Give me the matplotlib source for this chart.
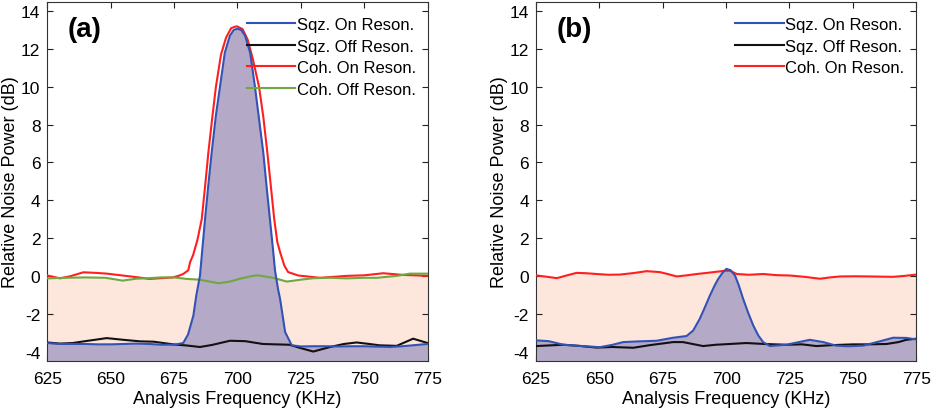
import matplotlib
matplotlib.use("Agg")
import matplotlib.pyplot as plt

plt.rcParams['font.family'] = ['Liberation Sans', 'DejaVu Sans']
plt.rcParams['axes.unicode_minus'] = False

# ---- panel (a) ----
a_sqz_on_f = [625, 630, 635, 640, 645, 650, 655, 660, 665, 670, 675, 678.6, 680.5, 682.6,
              683.8, 685.2, 686.2, 687.2, 688.5, 689.8, 691.5, 693.1, 695, 697, 698.5, 700,
              701.5, 703, 705, 706.9, 708.5, 710.2, 711.5, 712.8, 714, 714.8, 716, 716.8,
              718.8, 721.4, 725, 730, 735, 740, 745, 750, 755, 760, 765, 770, 775]
a_sqz_on = [-3.55, -3.6, -3.6, -3.6, -3.62, -3.62, -3.6, -3.58, -3.6, -3.64, -3.64, -3.55, -3.1, -2.1,
            -1.0, 0.0, 1.5, 3.0, 4.8, 6.5, 8.5, 10.0, 11.8, 12.7, 13.0, 13.07,
            13.0, 12.7, 11.8, 10.0, 8.3, 6.5, 4.7, 3.0, 1.42, 0.3, -0.7, -1.21,
            -2.97, -3.67, -3.73, -3.72, -3.72, -3.73, -3.72, -3.72, -3.74, -3.76, -3.72, -3.66, -3.6]

a_sqz_off_f = [625, 630, 635, 640, 648.4, 655, 661.5, 667, 674.6, 680, 685.2, 690, 697, 703,
               710, 715, 720.5, 725, 729.9, 736.5, 742, 747, 752, 756, 762.8, 769.3, 775]
a_sqz_off = [-3.52, -3.58, -3.55, -3.45, -3.29, -3.38, -3.46, -3.48, -3.62, -3.68, -3.76, -3.65, -3.43, -3.45,
             -3.6, -3.62, -3.64, -3.82, -4.0, -3.76, -3.6, -3.52, -3.6, -3.67, -3.7, -3.32, -3.55]

a_coh_on_f = [625, 630, 634, 639.2, 644, 648.4, 656, 661, 665.2, 670, 674.6, 677.1, 678.6, 680.6,
              681.3, 682.5, 684.2, 685.9, 687.2, 688.5, 690, 691.5, 693.5, 695.5, 697.5, 699.7,
              702, 704, 706, 708.5, 710.2, 711.8, 713.2, 714.5, 715.7, 716.8, 718.5, 720, 724,
              732.5, 738, 743, 750, 757.5, 765.4, 770, 775]
a_coh_on = [0.02, -0.13, -0.02, 0.19, 0.16, 0.12, 0.0, -0.08, -0.16, -0.12, -0.08, 0.02, 0.1, 0.3,
            0.72, 1.1, 1.9, 3.0, 4.7, 6.5, 8.3, 10.0, 11.7, 12.6, 13.1, 13.2,
            13.05, 12.5, 11.5, 10.0, 8.4, 6.5, 4.7, 3.0, 1.8, 1.26, 0.54, 0.2, 0.02,
            -0.1, -0.05, 0.0, 0.03, 0.14, 0.05, 0.03, 0.0]

a_coh_off_f = [625, 632, 640, 648, 654.7, 660, 665, 670, 675, 680, 685, 692.6, 697, 701,
               706, 708, 714, 719.5, 725, 730, 737, 743, 750, 755, 762.8, 768, 775]
a_coh_off = [-0.13, -0.1, -0.08, -0.1, -0.25, -0.15, -0.12, -0.08, -0.08, -0.16, -0.2, -0.39, -0.3, -0.15,
             0.0, 0.03, -0.1, -0.3, -0.2, -0.12, -0.1, -0.13, -0.1, -0.1, 0.0, 0.12, 0.12]

# ---- panel (b) ----
b_sqz_on_f = [625, 630, 635.8, 642, 650.2, 655, 659.4, 666, 672.6, 679.1, 684.4, 687, 689.6, 691.5,
              693.6, 695.5, 696.9, 698.5, 700.1, 701.8, 703.5, 705, 706.7, 708.7, 710.7, 712.7,
              714.6, 717.3, 723.8, 728, 733, 738.3, 743.5, 748, 754, 760.6, 765.9, 771.1, 775]
b_sqz_on = [-3.41, -3.45, -3.64, -3.7, -3.77, -3.65, -3.5, -3.46, -3.43, -3.27, -3.18, -2.89, -2.27, -1.7,
            -1.04, -0.5, -0.16, 0.15, 0.37, 0.3, 0.02, -0.5, -1.21, -1.95, -2.62, -3.15,
            -3.5, -3.71, -3.64, -3.52, -3.38, -3.5, -3.69, -3.72, -3.69, -3.46, -3.27, -3.28, -3.36]

b_sqz_off_f = [625, 635.8, 642, 648.9, 655, 663.4, 670, 679.1, 683, 690.9, 696, 701.5, 708, 715,
               723.8, 730, 735.6, 742, 750, 756, 763.3, 768, 771.1, 775]
b_sqz_off = [-3.71, -3.64, -3.7, -3.79, -3.76, -3.8, -3.66, -3.5, -3.5, -3.71, -3.64, -3.6, -3.55, -3.6,
             -3.64, -3.62, -3.71, -3.66, -3.62, -3.62, -3.6, -3.5, -3.38, -3.32]

b_coh_on_f = [625.3, 629, 633.2, 637, 641, 644.9, 648.9, 653.5, 658.1, 663.5, 668.6, 673.9, 677.5,
              680.5, 684.5, 688.4, 692.5, 696.3, 699.5, 701.5, 704.2, 709, 714.6, 719.8, 725.1,
              731, 737, 741, 744.9, 750.8, 756.7, 761.3, 765.9, 770.4, 775]
b_coh_on = [0.02, -0.04, -0.12, 0.02, 0.16, 0.14, 0.1, 0.06, 0.07, 0.15, 0.25, 0.2, 0.08,
            -0.03, 0.03, 0.1, 0.16, 0.22, 0.27, 0.27, 0.1, 0.06, 0.1, 0.04, 0.02,
            -0.05, -0.15, -0.08, -0.03, -0.02, -0.03, -0.04, -0.05, 0.0, 0.07]

x_ticks = [625, 650, 675, 700, 725, 750, 775]
y_ticks = [-4, -2, 0, 2, 4, 6, 8, 10, 12, 14]

BLUE = '#3352b5'
RED = '#ff1f1f'
GREEN = '#6fa83f'
BLACK = '#111111'
PEACH = '#fde6dc'
PURPLE = '#b5a9c8'
Y_BOTTOM = -4.5


def style_axes(ax, tag):
    ax.set_xlim(625, 775)
    ax.set_ylim(Y_BOTTOM, 14.5)
    ax.set_xticks(x_ticks)
    ax.set_yticks(y_ticks)
    ax.tick_params(direction='in', top=True, right=True, length=4, width=0.8,
                   labelsize=12.5, colors='#222222', labelcolor='black', pad=5)
    ax.tick_params(axis='x', pad=7)
    for sp in ax.spines.values():
        sp.set_color('#333333')
        sp.set_linewidth(0.8)
    ax.set_xlabel('Analysis Frequency (KHz)', fontsize=13, labelpad=3)
    ax.set_ylabel('Relative Noise Power (dB)', fontsize=13)
    ax.yaxis.set_label_coords(-0.074, 0.5)
    ax.text(0.053, 0.925, tag, transform=ax.transAxes, fontsize=20,
            fontweight='bold', va='center', ha='left')
    ax.legend(loc='upper right', frameon=False, fontsize=12, handlelength=2.9,
              handletextpad=0.1, labelspacing=0.4, borderaxespad=0.3,
              bbox_to_anchor=(1.0, 0.99))


fig = plt.figure(figsize=(9.32, 4.14), dpi=100)
ax_a = fig.add_axes([0.0508, 0.1256, 0.408, 0.868])
ax_b = fig.add_axes([0.5751, 0.1256, 0.408, 0.868])

# (a)
ax_a.fill_between(a_coh_off_f, a_coh_off, Y_BOTTOM, color=PEACH, lw=0, zorder=1)
ax_a.fill_between(a_sqz_on_f, a_sqz_on, Y_BOTTOM, color=PURPLE, lw=0, zorder=2)
ax_a.plot(a_sqz_on_f, a_sqz_on, color=BLUE, lw=1.5, label='Sqz. On Reson.', zorder=5)
ax_a.plot(a_sqz_off_f, a_sqz_off, color=BLACK, lw=1.5, label='Sqz. Off Reson.', zorder=4)
ax_a.plot(a_coh_on_f, a_coh_on, color=RED, lw=1.5, label='Coh. On Reson.', zorder=3)
ax_a.plot(a_coh_off_f, a_coh_off, color=GREEN, lw=1.5, label='Coh. Off Reson.', zorder=4)
style_axes(ax_a, '(a)')

# (b)
ax_b.fill_between(b_coh_on_f, b_coh_on, Y_BOTTOM, color=PEACH, lw=0, zorder=1)
ax_b.fill_between(b_sqz_on_f, b_sqz_on, Y_BOTTOM, color=PURPLE, lw=0, zorder=2)
ax_b.plot(b_sqz_on_f, b_sqz_on, color=BLUE, lw=1.5, label='Sqz. On Reson.', zorder=5)
ax_b.plot(b_sqz_off_f, b_sqz_off, color=BLACK, lw=1.5, label='Sqz. Off Reson.', zorder=4)
ax_b.plot(b_coh_on_f, b_coh_on, color=RED, lw=1.5, label='Coh. On Reson.', zorder=3)
style_axes(ax_b, '(b)')

fig.savefig('out.png', dpi=100)
